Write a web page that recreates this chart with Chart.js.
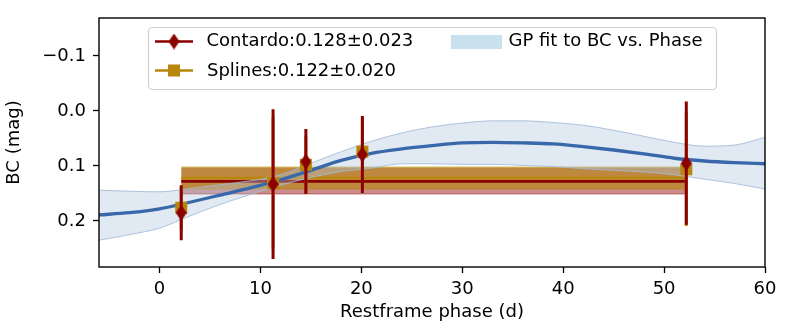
<!DOCTYPE html>
<html><head><meta charset="utf-8">
<script src="https://cdn.jsdelivr.net/npm/chart.js@4.4.0/dist/chart.umd.min.js"></script>
<style>html,body{margin:0;padding:0;background:#fff;}canvas{display:block;}</style>
</head><body>
<canvas id="c" width="797" height="332"></canvas>
<script>
// ---- data ----
const phases = [2.15, 11.25, 14.5, 20.1, 52.2];
const contardoBC = [0.185, 0.133, 0.092, 0.079, 0.095];
const contardoErr = [0.050, 0.136, 0.059, 0.070, 0.112];
const splinesBC = [0.176, 0.131, 0.098, 0.074, 0.106];
const splinesErr = [0.040, 0.120, 0.052, 0.060, 0.103];
const contardoMean = 0.128, contardoMeanErr = 0.023;
const splinesMean = 0.122, splinesMeanErr = 0.020;

const gpPhase = [-6, -3, 0, 3, 6, 9, 12, 15, 18, 21, 24, 27, 30, 33, 36, 39, 42, 45, 48, 51, 54, 57, 60];
const gpMean  = [0.189, 0.185, 0.178, 0.166, 0.153, 0.140, 0.125, 0.108, 0.090, 0.077, 0.069, 0.063, 0.058, 0.057, 0.058, 0.060, 0.065, 0.071, 0.078, 0.086, 0.091, 0.094, 0.096];
const gpUpper = [0.144, 0.146, 0.147, 0.141, 0.134, 0.127, 0.116, 0.095, 0.074, 0.055, 0.040, 0.029, 0.022, 0.018, 0.018, 0.021, 0.026, 0.035, 0.046, 0.057, 0.064, 0.062, 0.048];
const gpLower = [0.235, 0.225, 0.213, 0.191, 0.170, 0.152, 0.135, 0.121, 0.110, 0.104, 0.096, 0.096, 0.097, 0.097, 0.099, 0.101, 0.105, 0.108, 0.111, 0.116, 0.124, 0.132, 0.142];

const xTicks = [0, 10, 20, 30, 40, 50, 60];
const yTicks = [-0.1, 0.0, 0.1, 0.2];

const contardoLabel = 'Contardo:' + contardoMean.toFixed(3) + '±' + contardoMeanErr.toFixed(3);
const splinesLabel = 'Splines:' + splinesMean.toFixed(3) + '±' + splinesMeanErr.toFixed(3);
const gpLabel = 'GP fit to BC vs. Phase';

// ---- styles ----
const RED = '#8b0000', GOLD = '#b8860b', BLUE = '#3868aa';
const FONT = '"DejaVu Sans", sans-serif';

function diamondImage(){
  const c = document.createElement('canvas');
  c.width = 11; c.height = 16;
  const g = c.getContext('2d');
  g.fillStyle = RED;
  g.beginPath(); g.moveTo(5.5, 0); g.lineTo(11, 8); g.lineTo(5.5, 16); g.lineTo(0, 8); g.closePath(); g.fill();
  return c;
}
const diamond = diamondImage();

const pts = (xs, ys) => xs.map((x, i) => ({x, y: ys[i]}));
function errSegments(xs, ys, es){
  const out = [];
  xs.forEach((x, i) => { out.push({x, y: ys[i] - es[i]}, {x, y: ys[i] + es[i]}, {x, y: null}); });
  return out;
}
const x0 = phases[0], x1 = phases[phases.length - 1];
const hline = v => [{x: x0, y: v}, {x: x1, y: v}];

const base = {type: 'line', pointRadius: 0, pointHoverRadius: 0, tension: 0, fill: false};

const datasets = [
  // 0,1 Contardo band
  {...base, data: hline(contardoMean - contardoMeanErr), fill: '+1', backgroundColor: 'rgba(139,0,0,0.45)', borderColor: 'rgba(139,0,0,0.45)', borderWidth: 1, order: 9},
  {...base, data: hline(contardoMean + contardoMeanErr), borderColor: 'rgba(139,0,0,0.45)', borderWidth: 1, order: 9},
  // 2,3 Splines band
  {...base, data: hline(splinesMean - splinesMeanErr), fill: '+1', backgroundColor: 'rgba(184,134,11,0.6)', borderColor: 'rgba(184,134,11,0.6)', borderWidth: 1, order: 8},
  {...base, data: hline(splinesMean + splinesMeanErr), borderColor: 'rgba(184,134,11,0.6)', borderWidth: 1, order: 8},
  // 4 Splines mean line, 5 Contardo mean line
  {...base, data: hline(splinesMean), borderColor: GOLD, borderWidth: 2.6, order: 7},
  {...base, data: hline(contardoMean), borderColor: RED, borderWidth: 2.6, order: 6},
  // 6,7 GP band
  {...base, data: pts(gpPhase, gpUpper), fill: '+1', backgroundColor: 'rgba(176,196,222,0.38)', borderColor: 'rgba(160,184,214,0.85)', borderWidth: 1, cubicInterpolationMode: 'monotone', order: 5},
  {...base, data: pts(gpPhase, gpLower), borderColor: 'rgba(160,184,214,0.85)', borderWidth: 1, cubicInterpolationMode: 'monotone', order: 5},
  // 8 GP mean
  {...base, label: gpLabel, data: pts(gpPhase, gpMean), borderColor: BLUE, borderWidth: 3.3, cubicInterpolationMode: 'monotone', order: 4},
  // 9 Splines error bars, 10 Splines points
  {...base, data: errSegments(phases, splinesBC, splinesErr), borderColor: GOLD, borderWidth: 3, spanGaps: false, order: 3},
  {...base, label: splinesLabel, data: pts(phases, splinesBC), showLine: false, pointRadius: 8.5, pointStyle: 'rect', pointBackgroundColor: GOLD, pointBorderWidth: 0, pointBorderColor: GOLD, order: 2},
  // 11 Contardo error bars, 12 Contardo points
  {...base, data: errSegments(phases, contardoBC, contardoErr), borderColor: RED, borderWidth: 3, spanGaps: false, order: 1},
  {...base, label: contardoLabel, data: pts(phases, contardoBC), showLine: false, pointRadius: 8, pointStyle: diamond, order: 0}
];

const framePlugin = {
  id: 'frameAndLegend',
  afterDatasetsDraw(chart){
    const ctx = chart.ctx, a = chart.chartArea;
    ctx.save();
    // spines
    ctx.strokeStyle = '#000'; ctx.lineWidth = 1.4;
    ctx.strokeRect(a.left, a.top, a.right - a.left, a.bottom - a.top);
    // legend box
    ctx.beginPath();
    ctx.roundRect(148.5, 27.5, 568, 62, 4);
    ctx.fillStyle = 'rgba(255,255,255,0.85)'; ctx.fill();
    ctx.strokeStyle = '#d0d0d0'; ctx.lineWidth = 1.2; ctx.stroke();
    // row 1: Contardo
    const r1 = 41.5, r2 = 70.5;
    ctx.lineWidth = 2.6;
    ctx.strokeStyle = RED;
    ctx.beginPath(); ctx.moveTo(155, r1); ctx.lineTo(193, r1); ctx.stroke();
    ctx.drawImage(diamond, 174 - diamond.width / 2, r1 - diamond.height / 2);
    // row 2: Splines
    ctx.strokeStyle = GOLD;
    ctx.beginPath(); ctx.moveTo(155, r2); ctx.lineTo(193, r2); ctx.stroke();
    ctx.fillStyle = GOLD; ctx.fillRect(168, r2 - 6, 12, 12);
    // column 2: GP patch
    ctx.fillStyle = '#c9e0ef'; ctx.fillRect(451, 35, 51, 14);
    // texts
    ctx.fillStyle = '#000'; ctx.font = '18px ' + FONT; ctx.textBaseline = 'middle'; ctx.textAlign = 'left';
    ctx.fillText(contardoLabel, 206.5, r1);
    ctx.fillText(splinesLabel, 207, r2 + 0.5);
    ctx.fillText(gpLabel, 508.5, r1);
    ctx.restore();
  }
};

const tickFont = {family: FONT, size: 18};

new Chart(document.getElementById('c'), {
  type: 'line',
  data: {datasets},
  options: {
    responsive: false, animation: false, devicePixelRatio: 1,
    layout: {padding: {top: 18, right: 32, left: 0, bottom: 0}},
    plugins: {legend: {display: false}, tooltip: {enabled: false}},
    scales: {
      x: {
        type: 'linear', min: -6, max: 60,
        afterBuildTicks: s => { s.ticks = xTicks.map(v => ({value: v})); },
        afterFit: s => { s.height = 65; },
        grid: {display: true, drawOnChartArea: false, drawTicks: true, tickLength: 6, tickColor: '#000', tickWidth: 1.3},
        border: {display: false},
        ticks: {color: '#000', font: tickFont, padding: 6, maxRotation: 0, autoSkip: false, callback: v => String(v)},
        title: {display: true, text: 'Restframe phase (d)', color: '#000', font: tickFont, padding: {top: 0, bottom: 9}}
      },
      y: {
        type: 'linear', reverse: true, min: -0.169, max: 0.2837,
        afterBuildTicks: s => { s.ticks = yTicks.map(v => ({value: v})); },
        afterFit: s => { s.width = 99; },
        grid: {display: true, drawOnChartArea: false, drawTicks: true, tickLength: 6, tickColor: '#000', tickWidth: 1.3},
        border: {display: false},
        ticks: {color: '#000', font: tickFont, padding: 7, callback: v => (v < 0 ? '\u2212' : '') + Math.abs(v).toFixed(1)},
        title: {display: true, text: 'BC (mag)', color: '#000', font: tickFont, padding: {top: 4, bottom: 0}}
      }
    }
  },
  plugins: [framePlugin]
});
</script>
</body></html>
